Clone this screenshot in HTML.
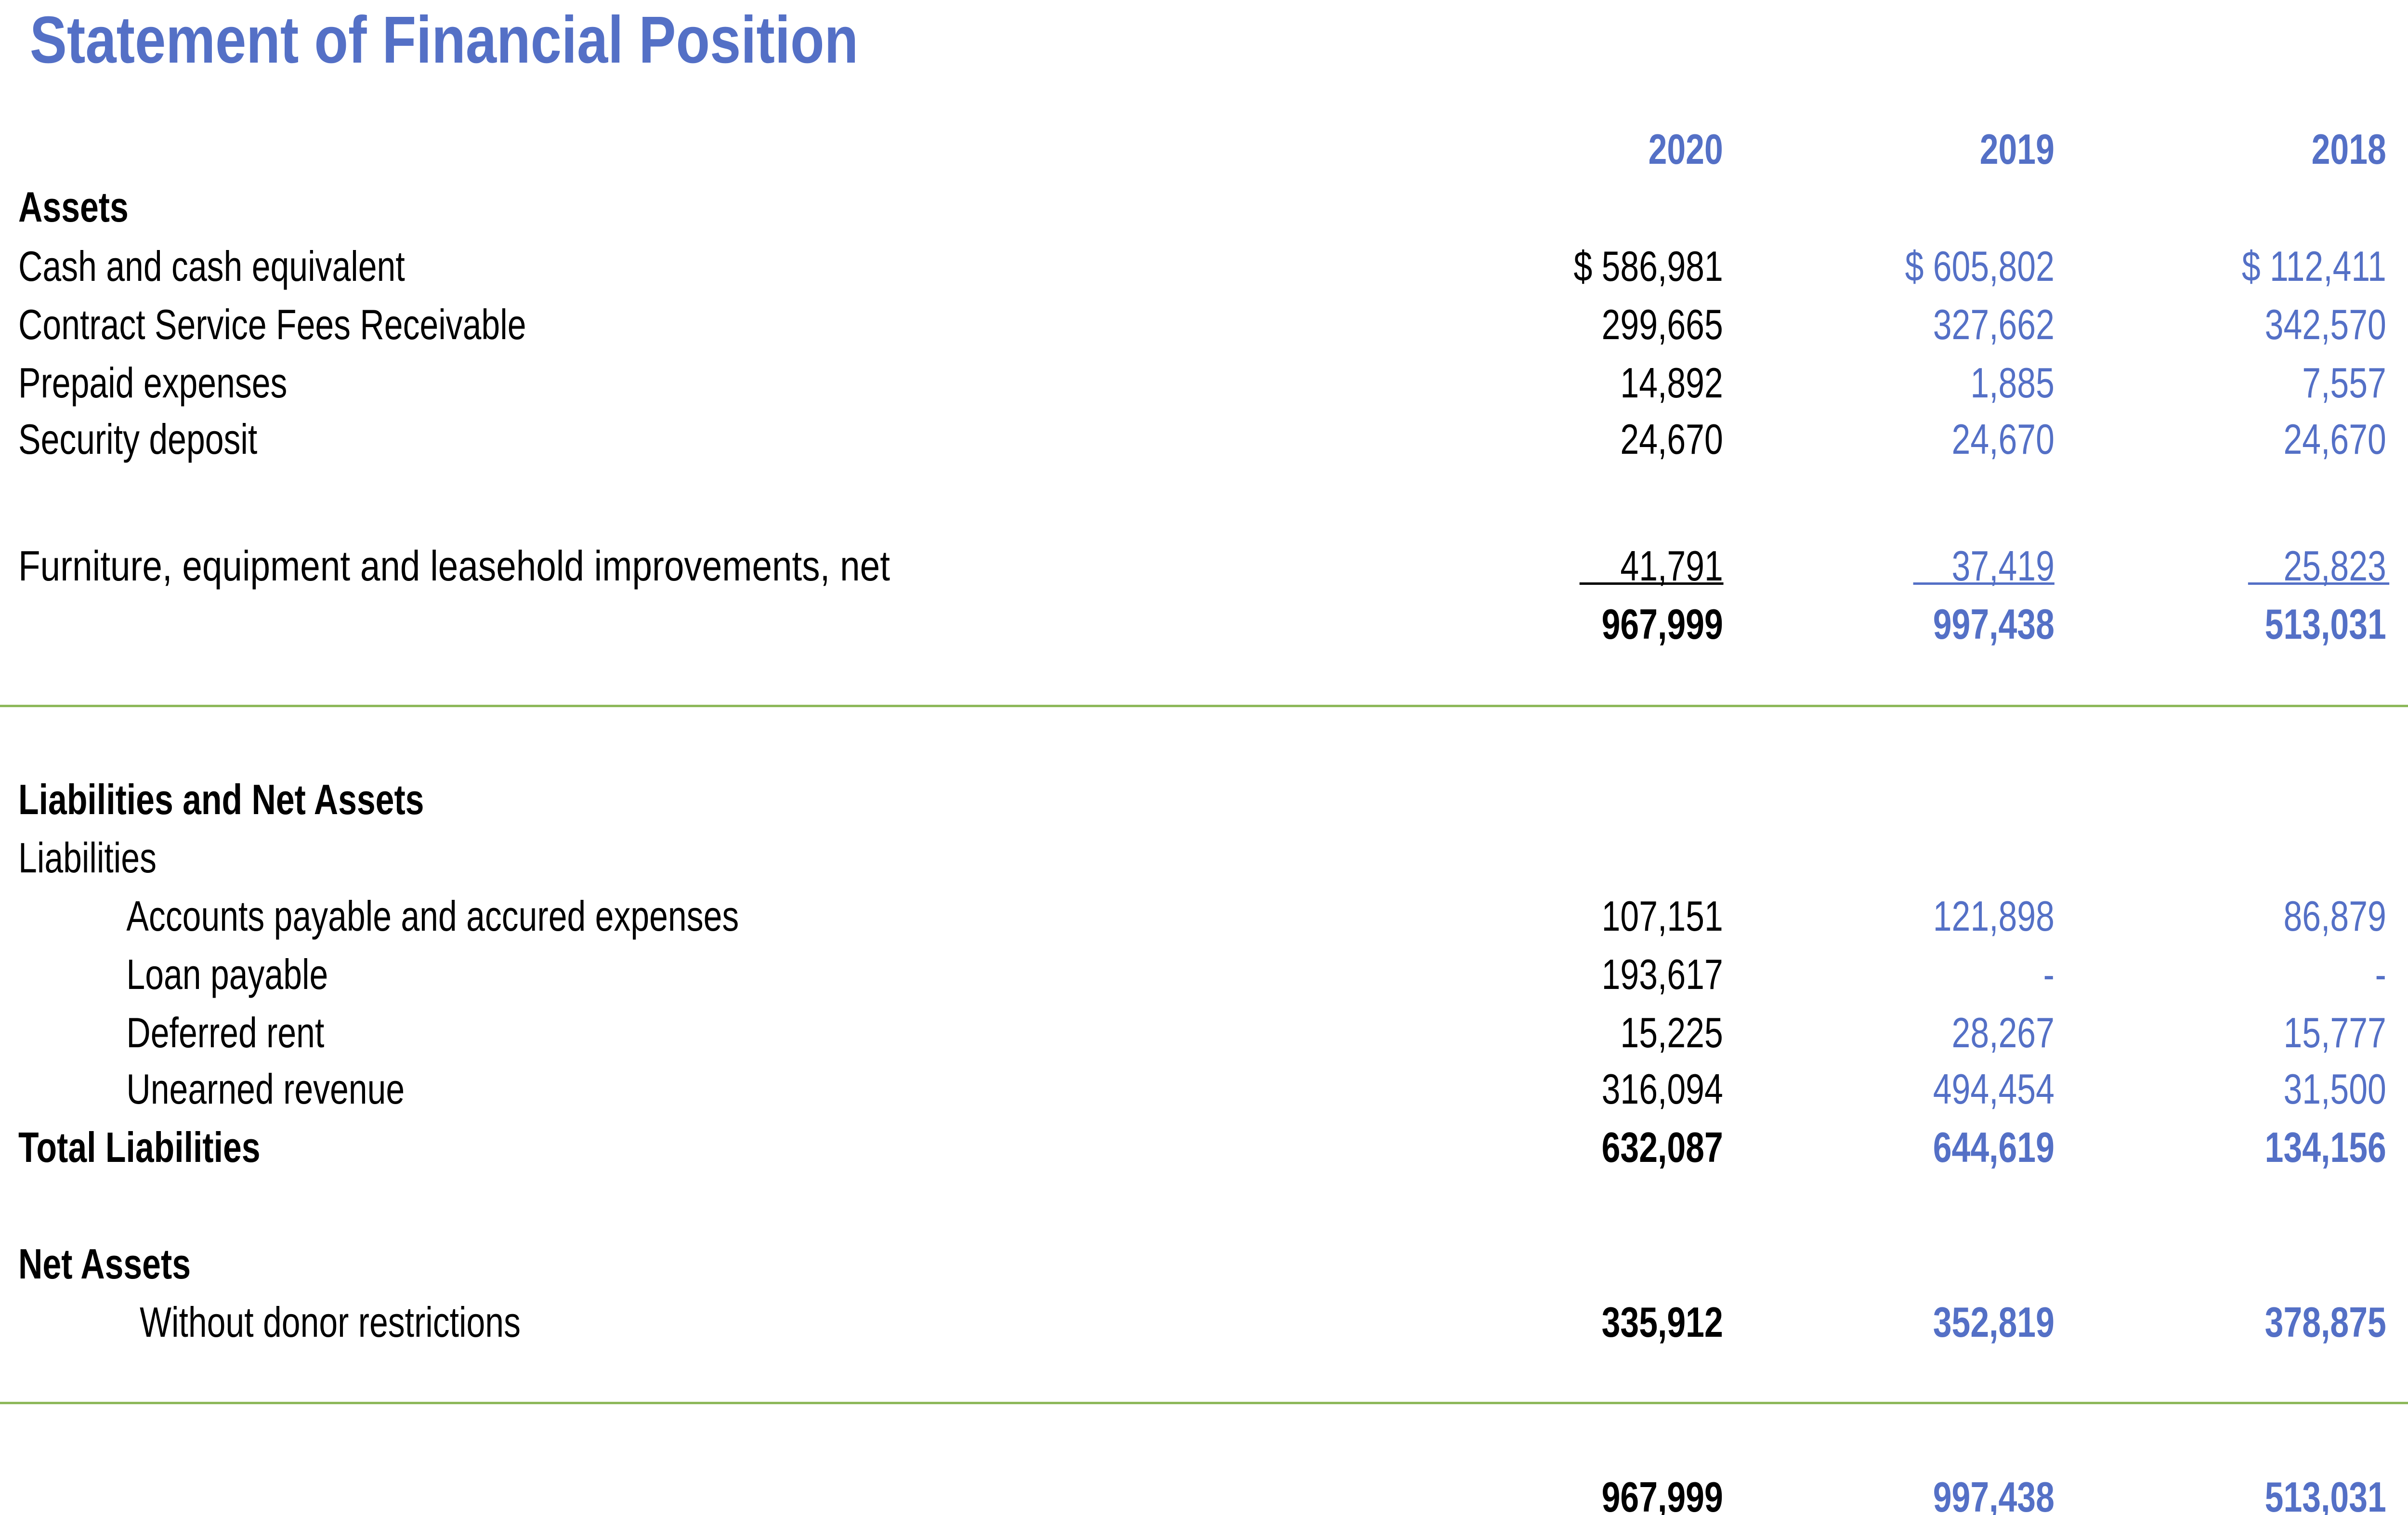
<!DOCTYPE html>
<html><head><meta charset="utf-8"><style>
html,body{margin:0;padding:0;background:#fff;overflow:hidden;width:100vw;height:100vh;}
svg{display:block;width:100vw;height:100vh;font-family:"Liberation Sans",sans-serif;}
.l{font-size:88px;fill:#000;}
.b{font-weight:bold;}
.k{fill:#000;font-size:88px;}
.u{fill:#5470C6;font-size:88px;}
</style></head><body>
<svg viewBox="0 0 6307 3145" preserveAspectRatio="none">
<text x="78" y="130" font-size="138" font-weight="bold" fill="#5470C6" textLength="2170" lengthAdjust="spacingAndGlyphs">Statement of Financial Position</text>

<g text-anchor="end" font-weight="bold" font-size="88">
<text x="4513" y="340" fill="#5470C6">2020</text>
<text x="5381" y="340" fill="#5470C6">2019</text>
<text x="6250" y="340" fill="#5470C6">2018</text>
</g>

<g>
<text class="l b" x="48" y="460">Assets</text>
<text class="l" x="48" y="583">Cash and cash equivalent</text>
<text class="l" x="48" y="704">Contract Service Fees Receivable</text>
<text class="l" x="48" y="825">Prepaid expenses</text>
<text class="l" x="48" y="942">Security deposit</text>
<text class="l" x="48" y="1205" textLength="2283" lengthAdjust="spacingAndGlyphs">Furniture, equipment and leasehold improvements, net</text>
<text class="l b" x="48" y="1690">Liabilities and Net Assets</text>
<text class="l" x="48" y="1811">Liabilities</text>
<text class="l" x="331" y="1932">Accounts payable and accured expenses</text>
<text class="l" x="331" y="2053">Loan payable</text>
<text class="l" x="331" y="2174">Deferred rent</text>
<text class="l" x="331" y="2291">Unearned revenue</text>
<text class="l b" x="48" y="2412">Total Liabilities</text>
<text class="l b" x="48" y="2654">Net Assets</text>
<text class="l" x="366" y="2775">Without donor restrictions</text>
</g>

<g text-anchor="end">
<text class="k" x="4513" y="583">$ 586,981</text>
<text class="k" x="4513" y="704">299,665</text>
<text class="k" x="4513" y="825">14,892</text>
<text class="k" x="4513" y="942">24,670</text>
<text class="k" x="4513" y="1205">41,791</text>
<text class="k b" x="4513" y="1326">967,999</text>
<text class="k" x="4513" y="1932">107,151</text>
<text class="k" x="4513" y="2053">193,617</text>
<text class="k" x="4513" y="2174">15,225</text>
<text class="k" x="4513" y="2291">316,094</text>
<text class="k b" x="4513" y="2412">632,087</text>
<text class="k b" x="4513" y="2775">335,912</text>
<text class="k b" x="4513" y="3138">967,999</text>
</g>

<g text-anchor="end">
<text class="u" x="5381" y="583">$ 605,802</text>
<text class="u" x="5381" y="704">327,662</text>
<text class="u" x="5381" y="825">1,885</text>
<text class="u" x="5381" y="942">24,670</text>
<text class="u" x="5381" y="1205">37,419</text>
<text class="u b" x="5381" y="1326">997,438</text>
<text class="u" x="5381" y="1932">121,898</text>
<text class="u" x="5381" y="2053">-</text>
<text class="u" x="5381" y="2174">28,267</text>
<text class="u" x="5381" y="2291">494,454</text>
<text class="u b" x="5381" y="2412">644,619</text>
<text class="u b" x="5381" y="2775">352,819</text>
<text class="u b" x="5381" y="3138">997,438</text>
</g>

<g text-anchor="end">
<text class="u" x="6250" y="583">$ 112,411</text>
<text class="u" x="6250" y="704">342,570</text>
<text class="u" x="6250" y="825">7,557</text>
<text class="u" x="6250" y="942">24,670</text>
<text class="u" x="6250" y="1205">25,823</text>
<text class="u b" x="6250" y="1326">513,031</text>
<text class="u" x="6250" y="1932">86,879</text>
<text class="u" x="6250" y="2053">-</text>
<text class="u" x="6250" y="2174">15,777</text>
<text class="u" x="6250" y="2291">31,500</text>
<text class="u b" x="6250" y="2412">134,156</text>
<text class="u b" x="6250" y="2775">378,875</text>
<text class="u b" x="6250" y="3138">513,031</text>
</g>

<g>
<rect x="4137" y="1209" width="377" height="5" fill="#000"/>
<rect x="5011" y="1209" width="370" height="5" fill="#5470C6"/>
<rect x="5888" y="1209" width="370" height="5" fill="#5470C6"/>
</g>

<rect x="0" y="1463" width="6307" height="5" fill="#8DB85A"/>
<rect x="0" y="2910" width="6307" height="5" fill="#8DB85A"/>
</svg>
</body></html>
